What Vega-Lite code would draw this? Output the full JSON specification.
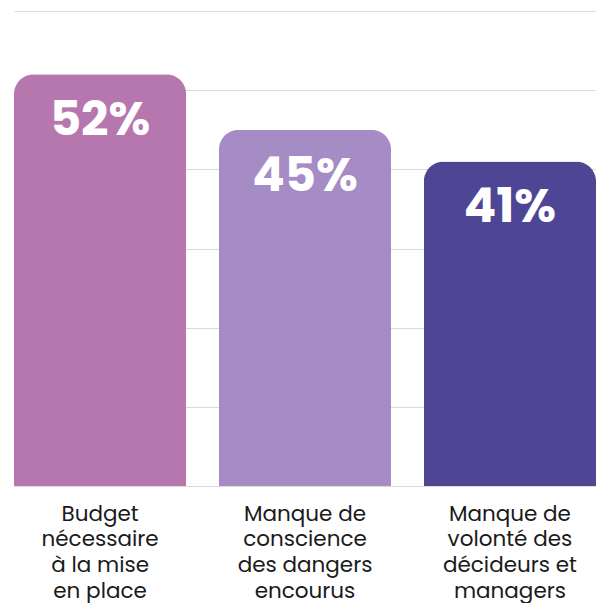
{
  "$schema": "https://vega.github.io/schema/vega-lite/v6.json",
  "autosize": "none",
  "width": 582,
  "height": 475,
  "padding": {"left": 14, "top": 11, "right": 0, "bottom": 117},
  "background": "white",
  "config": {"view": {"stroke": null}},
  "data": {"values": [
    {"cat": "Budget\nnécessaire\nà la mise\nen place", "value": 52, "label": "52%"},
    {"cat": "Manque de\nconscience\ndes dangers\nencourus", "value": 45, "label": "45%"},
    {"cat": "Manque de\nvolonté des\ndécideurs et\nmanagers", "value": 41, "label": "41%"}
  ]},
  "encoding": {
    "x": {
      "field": "cat", "type": "nominal", "sort": null,
      "scale": {"paddingInner": 0.16, "paddingOuter": 0},
      "axis": {
        "title": null, "labelAngle": 0, "ticks": false, "domain": false,
        "labelExpr": "split(datum.label, '\\n')",
        "labelFont": "Poppins, Inter", "labelFontSize": 21.5, "labelLineHeight": 25.7,
        "labelColor": "#1a1a1a", "labelPadding": 17, "labelBaseline": "top"
      }
    },
    "y": {
      "field": "value", "type": "quantitative",
      "scale": {"domain": [0, 60], "nice": false},
      "axis": {
        "title": null, "labels": false, "ticks": false, "domain": false,
        "grid": true, "values": [0, 10, 20, 30, 40, 50, 60],
        "gridColor": "#dadada", "gridWidth": 1.2
      }
    }
  },
  "layer": [
    {
      "mark": {"type": "bar", "cornerRadiusTopLeft": 20, "cornerRadiusTopRight": 20},
      "encoding": {
        "color": {
          "field": "cat", "type": "nominal", "legend": null,
          "scale": {"range": ["#B677AE", "#A58CC4", "#4E4695"]},
          "sort": null
        }
      }
    },
    {
      "mark": {"type": "text", "color": "white", "font": "Poppins, Inter", "fontWeight": "bold", "fontSize": 48, "baseline": "alphabetic", "dy": 61},
      "encoding": {"text": {"field": "label"}}
    }
  ]
}
